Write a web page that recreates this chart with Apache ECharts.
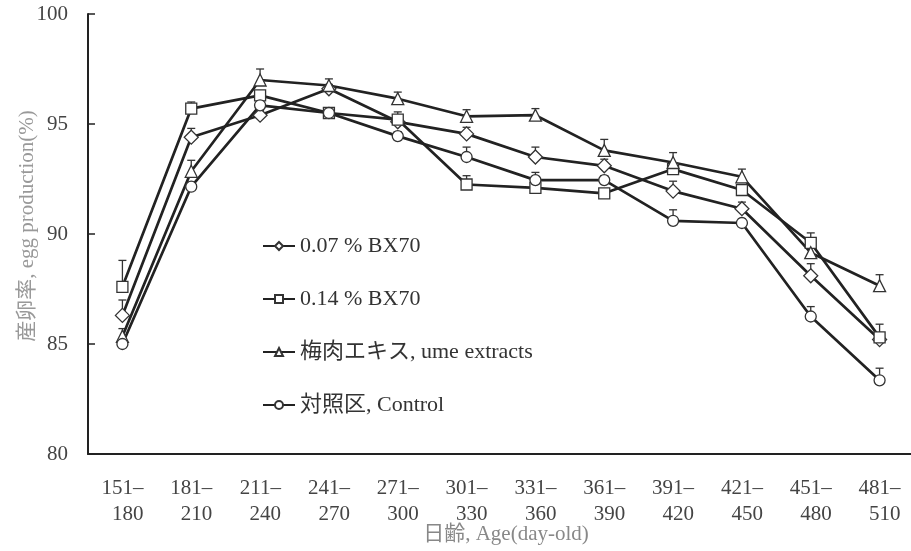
<!DOCTYPE html>
<html>
<head>
<meta charset="utf-8">
<script src="https://cdn.jsdelivr.net/npm/echarts@6/dist/echarts.min.js"></script>
<style>
  html, body { margin: 0; padding: 0; background: #fff; }
  #chart { width: 911px; height: 551px; }
</style>
</head>
<body>
<div id="chart"></div>
<script>
// 日齢区分
var categories = ["151–\n180", "181–\n210", "211–\n240", "241–\n270", "271–\n300", "301–\n330",
  "331–\n360", "361–\n390", "391–\n420", "421–\n450", "451–\n480", "481–\n510"];

// 産卵率 (%)
var bx007 = [86.3, 94.4, 95.4, 96.6, 95.1, 94.55, 93.5, 93.1, 91.95, 91.15, 88.1, 85.2];
var bx014 = [87.6, 95.7, 96.3, 95.5, 95.2, 92.25, 92.1, 91.85, 92.95, 92.0, 89.6, 85.3];
var ume = [85.35, 92.85, 97.0, 96.75, 96.15, 95.35, 95.4, 93.8, 93.25, 92.6, 89.15, 87.65];
var control = [85.0, 92.15, 95.85, 95.5, 94.45, 93.5, 92.45, 92.45, 90.6, 90.5, 86.25, 83.35];

// 標準誤差 (上側のみ表示)
var bx007Err = [0.7, 0.4, 0.2, 0.2, 0.2, 0.3, 0.45, 0.3, 0.45, 0.3, 0.55, 0.3];
var bx014Err = [1.2, 0.3, 0.2, 0.2, 0.35, 0.4, 0.2, 0.2, 0.2, 0.2, 0.45, 0.6];
var umeErr = [0.35, 0.5, 0.5, 0.3, 0.3, 0.3, 0.3, 0.5, 0.45, 0.35, 0.3, 0.5];
var controlErr = [0.2, 0.2, 0.2, 0.2, 0.2, 0.45, 0.35, 0.2, 0.5, 0.2, 0.45, 0.55];

var yTicks = [80, 85, 90, 95, 100];

var serifFont = "'Liberation Serif', 'Noto Sans CJK JP', serif";
var lineColor = "#222";

var myChart = echarts.init(document.getElementById("chart"));

function errData(vals, errs) {
  return vals.map(function (v, i) {
    return [i, v, errs[i]];
  });
}

function errSeries(vals, errs) {
  return {
    type: "custom",
    silent: true,
    z: 1,
    data: errData(vals, errs),
    renderItem: function (params, api) {
      var p0 = api.coord([api.value(0), api.value(1)]);
      var p1 = api.coord([api.value(0), api.value(1) + api.value(2)]);
      var st = { stroke: "#333", lineWidth: 1.3 };
      return {
        type: "group",
        children: [
          { type: "line", shape: { x1: p0[0], y1: p0[1], x2: p1[0], y2: p1[1] }, style: st },
          { type: "line", shape: { x1: p1[0] - 4, y1: p1[1], x2: p1[0] + 4, y2: p1[1] }, style: st }
        ]
      };
    }
  };
}

function lineSeries(name, vals, symbol, size) {
  return {
    name: name,
    type: "line",
    data: vals,
    symbol: symbol,
    symbolSize: size,
    showAllSymbol: true,
    z: 3,
    lineStyle: { color: lineColor, width: 2.7 },
    itemStyle: { color: "#fff", borderColor: "#333", borderWidth: 1.3 }
  };
}

myChart.setOption({
  animation: false,
  backgroundColor: "#fff",
  grid: {
    left: 88,
    right: -3,
    top: 14,
    bottom: 97,
    outerBoundsMode: "none"
  },
  legend: {
    orient: "vertical",
    left: 257,
    top: 230,
    itemWidth: 32,
    itemHeight: 10,
    itemGap: 31,
    textStyle: { fontFamily: serifFont, fontSize: 22, color: "#333" },
    data: ["0.07 % BX70", "0.14 % BX70", "梅肉エキス, ume extracts", "対照区, Control"]
  },
  xAxis: {
    type: "category",
    data: categories,
    boundaryGap: true,
    name: "日齢, Age(day-old)",
    nameLocation: "middle",
    nameGap: 70,
    nameMoveOverlap: false,
    nameTextStyle: { fontFamily: serifFont, fontSize: 21, color: "#888", padding: [0, 0, 0, 10] },
    axisLine: { lineStyle: { color: "#222", width: 2 } },
    axisTick: { inside: true, length: 8, lineStyle: { color: "#222", width: 1.5 } },
    axisLabel: {
      interval: 0,
      margin: 21,
      formatter: function (v) {
        var parts = v.split("\n");
        return "{a|" + parts[0] + "}\n{a|" + parts[1] + "}";
      },
      rich: {
        a: {
          fontFamily: serifFont,
          fontSize: 21,
          color: "#444",
          lineHeight: 26,
          width: 42,
          align: "right"
        }
      }
    }
  },
  yAxis: {
    type: "value",
    min: yTicks[0],
    max: yTicks[yTicks.length - 1],
    interval: 5,
    name: "産卵率, egg production(%)",
    nameLocation: "middle",
    nameGap: 50,
    nameMoveOverlap: false,
    nameTextStyle: { fontFamily: serifFont, fontSize: 21, color: "#999", padding: [0, 0, 0, 16] },
    axisLine: { show: true, lineStyle: { color: "#222", width: 2 } },
    axisTick: { show: true, inside: true, length: 7, lineStyle: { color: "#222", width: 1.5 } },
    splitLine: { show: false },
    axisLabel: { fontFamily: serifFont, fontSize: 21, color: "#444", margin: 20 }
  },
  series: [
    errSeries(bx007, bx007Err),
    errSeries(bx014, bx014Err),
    errSeries(ume, umeErr),
    errSeries(control, controlErr),
    lineSeries("0.07 % BX70", bx007, "diamond", 14),
    lineSeries("0.14 % BX70", bx014, "rect", 11),
    lineSeries("梅肉エキス, ume extracts", ume, "triangle", 12),
    lineSeries("対照区, Control", control, "circle", 11)
  ]
});
</script>
</body>
</html>
